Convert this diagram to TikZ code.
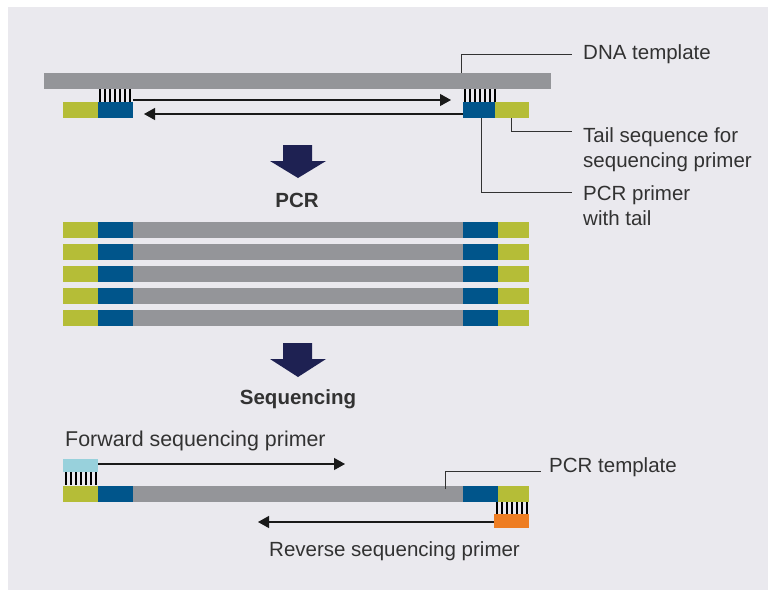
\documentclass[tikz,border=0pt]{standalone}
\usepackage{fontspec}
\setmainfont{Liberation Sans}
\usetikzlibrary{arrows.meta}
\definecolor{bgc}{RGB}{234,233,238}
\definecolor{dnag}{RGB}{148,149,153}
\definecolor{pblue}{RGB}{0,85,139}
\definecolor{pgreen}{RGB}{181,189,55}
\definecolor{navy}{RGB}{30,33,82}
\definecolor{txt}{RGB}{50,50,50}
\definecolor{cyanp}{RGB}{152,209,220}
\definecolor{orangep}{RGB}{238,125,34}
\tikzset{
  blk/.style={inner sep=0pt, outer sep=0pt, draw=none, anchor=north west, minimum height=16pt},
  lbl/.style={inner sep=0pt, anchor=base west, text=txt, font=\fontsize{20.5}{25}\selectfont},
  bold/.style={inner sep=0pt, anchor=base, text=txt, font=\fontsize{20.5}{25}\selectfont\bfseries},
  leader/.style={draw=txt, line width=1pt},
  ext/.style={draw=black!90, line width=1.2pt, -{Triangle[length=11pt,width=12pt]}},
  bigarrow/.style={fill=navy, draw=none}
}
\newcommand{\hatchbox}[2]{%
  \foreach \i in {0,...,6} {\fill[black] (#1+\i*5,#2) rectangle ++(2,13);}%
}
\begin{document}
\begin{tikzpicture}[x=1pt,y=-1pt]
\useasboundingbox (0,0) rectangle (769,590);
\fill[bgc] (8,7) rectangle (768,590);

% ---- top: template with primers
\node[blk, fill=dnag, minimum width=507pt] (tmpl) at (44,73) {};
\hatchbox{99}{89}
\hatchbox{464}{89}
\node[blk, fill=pgreen, minimum width=35pt] (lg) at (63,102) {};
\node[blk, fill=pblue, minimum width=35pt] (lb) at (98,102) {};
\node[blk, fill=pblue, minimum width=32pt] (rb) at (463,102) {};
\node[blk, fill=pgreen, minimum width=34pt] (rg) at (495,102) {};
\coordinate (fwdend) at (451,100);
\coordinate (revend) at (144,114);
\draw[ext] (lb.east |- fwdend) -- (fwdend);
\draw[ext] (rb.west |- revend) -- (revend);

% labels
\node[lbl] (ldna) at (583,59) {DNA template};
\node[lbl] (ltail1) at (583,142) {Tail sequence for};
\node[lbl] (ltail2) at (583,167) {sequencing primer};
\node[lbl] (lpcr1) at (583,200) {PCR primer};
\node[lbl] (lpcr2) at (583,225) {with tail};
\coordinate (c1) at (461,54);
\coordinate (c2) at (511,131);
\coordinate (c3) at (481,192);
\draw[leader] (c1 |- tmpl.north) -- (c1) -- (572,54);
\draw[leader] (c2 |- rg.south) -- (c2) -- (572,131);
\draw[leader] (c3 |- rb.south) -- (c3) -- (572,192);

% ---- PCR arrow
\fill[bigarrow] (283,145) -- (312,145) -- (312,161) -- (326,161) -- (298,178) -- (270,161) -- (283,161) -- cycle;
\node[bold] (pcr) at (297,207) {PCR};

% ---- PCR products
\foreach \k/\yy in {1/222,2/244,3/266,4/288,5/310} {
  \node[blk, fill=pgreen, minimum width=35pt] (pg\k) at (63,\yy) {};
  \node[blk, fill=pblue, minimum width=35pt] (pb\k) at (98,\yy) {};
  \node[blk, fill=dnag, minimum width=330pt] (pd\k) at (133,\yy) {};
  \node[blk, fill=pblue, minimum width=35pt] (pr\k) at (463,\yy) {};
  \node[blk, fill=pgreen, minimum width=31pt] (pt\k) at (498,\yy) {};
}

% ---- Sequencing arrow
\fill[bigarrow] (283,343) -- (312,343) -- (312,359) -- (326,359) -- (298,377) -- (270,359) -- (283,359) -- cycle;
\node[bold] (seq) at (298,404) {Sequencing};

% ---- bottom: sequencing
\node[lbl, font=\fontsize{21.4}{25}\selectfont] (lfwd) at (65,446) {Forward sequencing primer};
\node[blk, fill=cyanp, minimum width=35pt, minimum height=13pt] (fp) at (63,459) {};
\hatchbox{65}{472}
\node[blk, fill=pgreen, minimum width=35pt] (sg) at (63,486) {};
\node[blk, fill=pblue, minimum width=35pt] (sb) at (98,486) {};
\node[blk, fill=dnag, minimum width=330pt] (sd) at (133,486) {};
\node[blk, fill=pblue, minimum width=35pt] (sr) at (463,486) {};
\node[blk, fill=pgreen, minimum width=31pt] (st) at (498,486) {};
\hatchbox{496}{502}
\node[blk, fill=orangep, minimum width=35pt, minimum height=14pt] (rp) at (494,514) {};
\coordinate (sfend) at (345,464);
\coordinate (srend) at (258,522);
\draw[ext] (fp.east |- sfend) -- (sfend);
\draw[ext] (rp.west |- srend) -- (srend);
\node[lbl] (ltmp) at (549,472) {PCR template};
\node[lbl] (lrev) at (269,556) {Reverse sequencing primer};
\coordinate (c4) at (445,471);
\draw[leader] (445,489) -- (c4) -- (541,471);
\end{tikzpicture}
\end{document}
